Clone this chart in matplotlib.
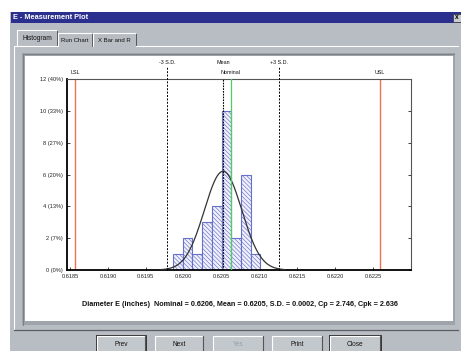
import numpy as np
import matplotlib
matplotlib.use("Agg")
import matplotlib.pyplot as plt
from matplotlib.patches import Rectangle
import matplotlib.transforms as mtransforms

plt.rcParams['font.family'] = ['Liberation Sans', 'DejaVu Sans']
plt.rcParams['hatch.color'] = "#8c92d8"
plt.rcParams['hatch.linewidth'] = 0.45

# data
counts = [1, 2, 1, 3, 4, 10, 2, 6, 1]
bin_start = 0.61986
bin_width = 0.000128
mean = 0.62052
sd = 0.000247
nominal = 0.62062
lsl = 0.61857
usl = 0.62259
x_ticks = [0.6185, 0.6190, 0.6195, 0.6200, 0.6205, 0.6210, 0.6215, 0.6220, 0.6225]
y_ticks = [0, 2, 4, 6, 8, 10, 12]
y_labels = ["0 (0%)", "2 (7%)", "4 (13%)", "6 (20%)", "8 (27%)", "10 (33%)", "12 (40%)"]
tabs = ["Histogram", "Run Chart", "X Bar and R"]
buttons = ["Prev", "Next", "Yes", "Print", "Close"]
caption = ("Diameter E (inches)  Nominal = 0.6206, Mean = 0.6205, S.D. = 0.0002, "
           "Cp = 2.746, Cpk = 2.636")

W, H = 461, 351
fig = plt.figure(figsize=(W / 100, H / 100), dpi=100)
fig.patch.set_facecolor("white")

# window chrome drawn in pixel coordinates
bg = fig.add_axes([0, 0, 1, 1])
bg.set_xlim(0, W)
bg.set_ylim(H, 0)
bg.axis("off")

gray = "#b7bdc3"
bg.add_patch(Rectangle((10, 12), W - 10, H - 12, color=gray, lw=0))
bg.add_patch(Rectangle((11, 12), W - 11, 11, color="#2b308e", lw=0))
bg.text(13, 17.5, "E - Measurement Plot", color="white", fontsize=5.3,
        fontweight="bold", va="center", ha="left")
bg.add_patch(Rectangle((453, 13.5), 8, 8, facecolor="#c8ccd0", edgecolor="#333", lw=0.5))
bg.text(457, 17.5, "x", fontsize=4.8, fontweight="bold", ha="center", va="center")

# tabs
tab_x = [(17, 57), (58, 92), (93, 136)]
for i, (name, (x0, x1)) in enumerate(zip(tabs, tab_x)):
    top = 30 if i == 0 else 33
    bg.add_patch(Rectangle((x0, top), x1 - x0, 46 - top, facecolor=gray,
                           edgecolor="none"))
    bg.plot([x0, x0, x1 - 1], [46, top, top], color="white", lw=0.8)
    bg.plot([x1, x1], [top + 1, 46], color="#555", lw=0.7)
    bg.text((x0 + x1) / 2, (top + 46) / 2 + 0.5, name, fontsize=4.7 if i == 0 else 4.3,
            ha="center", va="center", color="#111")

# tab panel border
bg.plot([14, 14, 57], [330, 46, 46], color="white", lw=0.8)
bg.plot([136, 458], [46, 46], color="white", lw=0.8)
bg.plot([14, 458], [330, 330], color="#5a5e62", lw=0.9)

# sunken white plot area
bg.add_patch(Rectangle((22, 53), 433, 272, facecolor="#9ea4aa", lw=0))
bg.add_patch(Rectangle((25, 56), 428, 265, facecolor="white", lw=0))
bg.plot([23, 23, 454], [325, 54, 54], color="#7c8186", lw=0.8)

# buttons
btn_x = [(97, 145), (155, 203), (213, 263), (272, 322), (330, 380)]
for name, (x0, x1) in zip(buttons, btn_x):
    bg.add_patch(Rectangle((x0, 336), x1 - x0, 20, facecolor="#c3c8cd",
                           edgecolor="none"))
    bg.plot([x0, x0, x1], [352, 336, 336], color="white", lw=0.8)
    bg.plot([x1, x1], [336, 352], color="#555", lw=0.8)
    if name in ("Prev", "Close"):
        bg.add_patch(Rectangle((x0 - 1, 335), x1 - x0 + 2, 20, fill=False,
                               edgecolor="#333", lw=0.7))
    bg.text((x0 + x1) / 2, 344, name, fontsize=4.7, ha="center", va="center",
            color="#9aa0a6" if name == "Yes" else "#111")

# histogram axes
ax = fig.add_axes([67 / W, 1 - 270 / H, 344 / W, 191 / H])
ax.set_facecolor("white")
edges = bin_start + bin_width * np.arange(len(counts) + 1)
ax.bar(edges[:-1], counts, width=bin_width, align="edge", facecolor="#f0f1fb",
       edgecolor="#6870c8", hatch="\\" * 8, lw=0.8, zorder=2)

xs = np.linspace(mean - 3.3 * sd, mean + 3.3 * sd, 300)
ys = sum(counts) * bin_width * np.exp(-0.5 * ((xs - mean) / sd) ** 2) / (sd * np.sqrt(2 * np.pi))
ax.plot(xs, ys, color="#333", lw=0.9, zorder=3)

ax.axvline(lsl, color="#f07050", lw=1.0, zorder=1)
ax.axvline(usl, color="#f07050", lw=1.0, zorder=1)
ax.axvline(nominal, color="#50cc64", lw=0.9, zorder=4)
ax.axvline(mean, color="black", lw=0.8, ls=(0, (1.5, 1)), zorder=4)

trans = mtransforms.blended_transform_factory(ax.transData, ax.transAxes)
for xv in (mean - 3 * sd, mean + 3 * sd):
    ax.plot([xv, xv], [0, 1.063], color="black", lw=0.7, ls=(0, (2, 1.5)),
            transform=trans, clip_on=False, zorder=4)
lab = dict(transform=trans, fontsize=3.9, ha="center", va="center", color="#111")
ax.text(mean - 3 * sd, 1.085, "-3 S.D.", **lab)
ax.text(mean + 3 * sd, 1.085, "+3 S.D.", **lab)
ax.text(mean, 1.085, "Mean", **lab)
ax.text(nominal, 1.033, "Nominal", **lab)
ax.text(lsl, 1.033, "LSL", **lab)
ax.text(usl, 1.033, "USL", **lab)

ax.set_xlim(0.61846, 0.62300)
ax.set_ylim(0, 12)
ax.set_xticks(x_ticks)
ax.set_xticklabels([f"{v:.4f}" for v in x_ticks])
ax.set_yticks(y_ticks)
ax.set_yticklabels(y_labels)
ax.tick_params(axis="both", direction="in", length=2.5, width=0.6, labelsize=4.1,
               colors="#222", pad=3)
ax.tick_params(axis="y", right=True, labelright=False)
for side in ("left", "bottom"):
    ax.spines[side].set_linewidth(1.3)
    ax.spines[side].set_color("black")
for side in ("top", "right"):
    ax.spines[side].set_linewidth(0.8)
    ax.spines[side].set_color("#555")

fig.text(240 / W, 1 - 304 / H, caption, fontsize=5.2, fontweight="bold",
         ha="center", va="center", color="#111")

fig.savefig("out.png", dpi=100)
